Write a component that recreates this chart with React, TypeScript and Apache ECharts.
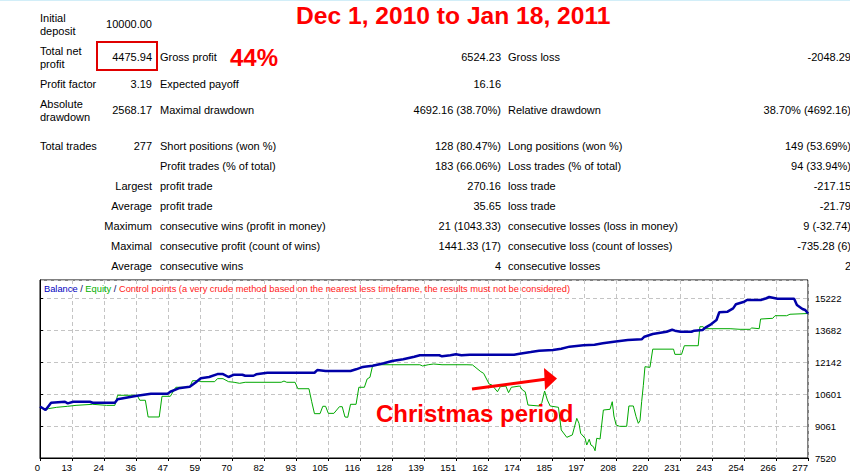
import React, { useEffect, useRef } from "react";
import * as echarts from "echarts";

// balance curve, [trade number, money]
const balancePoints: [number, number][] = [
  [0, 10000], [2, 9830], [4, 10180], [9, 10230], [10, 10150], [12, 10230], [18, 10230],
  [19, 10180], [27, 10180], [28, 10350], [30, 10400], [33, 10470], [35, 10520], [40, 10615],
  [46, 10615], [47, 10710], [50, 10875], [54, 10950], [56, 11145], [58, 11360], [61, 11420],
  [64, 11560], [66, 11560], [68, 11420], [70, 11530], [73, 11530], [74, 11480], [77, 11480],
  [78, 11550], [82, 11625], [99, 11625], [100, 11755], [103, 11710], [112, 11710], [114, 11790],
  [116, 11885], [117, 11915], [120, 11965], [124, 12080], [127, 12190], [131, 12270],
  [135, 12395], [137, 12465], [144, 12465], [145, 12415], [148, 12465], [150, 12510],
  [152, 12465], [155, 12490], [171, 12490], [173, 12540], [177, 12620], [180, 12685],
  [185, 12720], [188, 12780], [191, 12880], [196, 12945], [200, 12975], [203, 13040],
  [207, 13120], [212, 13200], [217, 13235], [218, 13360], [221, 13490], [226, 13600],
  [228, 13695], [229, 13650], [231, 13600], [235, 13600], [236, 13650], [239, 13680],
  [240, 13795], [242, 13955], [244, 14165], [245, 14535], [248, 14565], [250, 14725],
  [251, 14920], [254, 15045], [255, 15125], [260, 15125], [262, 15210], [263, 15270],
  [266, 15190], [272, 15190], [273, 14885], [275, 14695], [276, 14645], [277, 14476],
];

// equity curve, [trade number, money]
const equityPoints: [number, number][] = [
  [0, 10000], [2, 9830], [3, 9895], [6, 9960], [10, 10010], [13, 10055], [19, 10105],
  [24, 10055], [27, 10055], [28, 10540], [35, 10540], [36, 10300], [38, 10300], [39, 9495],
  [43, 9495], [44, 10490], [47, 10490], [48, 10710], [49, 10925], [54, 10925], [55, 11240],
  [57, 11240], [58, 11195], [63, 11195], [64, 11340], [66, 11340], [68, 11195], [70, 11165],
  [72, 11115], [74, 11165], [87, 11165], [88, 11225], [89, 11165], [92, 11165], [93, 10855],
  [97, 10855], [98, 10230], [99, 9655], [101, 9655], [102, 10010], [103, 10010], [104, 9670],
  [106, 9670], [108, 9990], [109, 9990], [110, 9495], [111, 9480], [112, 10105], [114, 10105],
  [115, 10925], [117, 10925], [118, 11325], [119, 11405], [120, 11985], [121, 12010],
  [137, 12010], [138, 11950], [140, 12010], [142, 12045], [145, 12010], [154, 12010],
  [156, 12000], [159, 11675], [160, 11595], [162, 11080], [163, 11035], [165, 10710],
  [166, 10950], [168, 10985], [169, 10665], [170, 10925], [173, 10985], [174, 10795],
  [175, 10710], [176, 10070], [180, 10025], [181, 10180], [182, 10745], [183, 10310],
  [184, 10025], [187, 9960], [188, 8870], [190, 8515], [192, 8630], [193.6, 9430],
  [194.4, 9190], [195, 8710], [196.6, 8470], [197.2, 8145], [198.1, 8420], [198.7, 8145],
  [199.6, 8065], [200.2, 7870], [200.8, 8470], [202, 8435], [203.2, 9830], [205.6, 9865],
  [206.4, 10230], [207, 9540], [207.8, 9110], [209, 9045], [211.6, 9045], [212.4, 10025],
  [214, 10025], [215, 9510], [215.8, 9190], [216.4, 9315], [217, 10230], [217.6, 11000],
  [218.2, 11915], [220, 11885], [221, 12760], [228.5, 12760], [229, 12510], [231.4, 12510],
  [232.4, 12925], [237.4, 12925], [238, 13840], [239.2, 13840], [239.6, 13745],
  [248.9, 13745], [252.5, 13715], [256.1, 13715], [256.7, 13780], [259.4, 13745],
  [259.9, 14210], [264.3, 14245], [265.1, 14370], [269.3, 14370], [270.5, 14440], [277, 14476],
];

const xTickLabels = [
  "0", "13", "24", "36", "47", "59", "70", "82", "93", "105", "116", "128", "139",
  "151", "162", "174", "185", "197", "208", "220", "231", "243", "254", "266", "277",
];
const tradeCount = 277;
const yMin = 7520.4;
const yStep = 1540.4;
const yMax = 16089;

const reportTitle = "Dec 1, 2010 to Jan 18, 2011";
const profitNote = "44%";
const christmasNote = "Christmas period";
const legendNote =
  "Control points (a very crude method based on the nearest less timeframe, the results must not be considered)";

// report table, one array per column
const rowY = [24, 57, 84, 110, 146, 166, 186, 206, 226, 246, 266];
const colNames = ["Initial\ndeposit", "Total net\nprofit", "Profit factor", "Absolute\ndrawdown", "Total trades", "", "", "", "", "", ""];
const colFirstValues = ["10000.00", "4475.94", "3.19", "2568.17", "277", "", "Largest", "Average", "Maximum", "Maximal", "Average"];
const colMidNames = ["", "Gross profit", "Expected payoff", "Maximal drawdown", "Short positions (won %)", "Profit trades (% of total)", "profit trade", "profit trade", "consecutive wins (profit in money)", "consecutive profit (count of wins)", "consecutive wins"];
const colMidValues = ["", "6524.23", "16.16", "4692.16 (38.70%)", "128 (80.47%)", "183 (66.06%)", "270.16", "35.65", "21 (1043.33)", "1441.33 (17)", "4"];
const colRightNames = ["", "Gross loss", "", "Relative drawdown", "Long positions (won %)", "Loss trades (% of total)", "loss trade", "loss trade", "consecutive losses (loss in money)", "consecutive loss (count of losses)", "consecutive losses"];
const colRightValues = ["", "-2048.29", "", "38.70% (4692.16)", "149 (53.69%)", "94 (33.94%)", "-217.15", "-21.79", "9 (-32.74)", "-735.28 (6)", "2"];

const FAMILY = '"Liberation Sans", Arial, sans-serif';

const buildGraphics = () => {
  const cols = [colNames, colFirstValues, colMidNames, colMidValues, colRightNames, colRightValues];
  const colX = [40, 152, 160, 501, 508, 851];
  const colAlign = ["left", "right", "left", "right", "left", "right"];
  const els: any[] = [
    { type: "rect", shape: { x: 0, y: 0, width: 850, height: 1 }, style: { fill: "#d2eef8" } },
  ];
  cols.forEach((col, c) => {
    col.forEach((txt, i) => {
      if (!txt) return;
      els.push({
        type: "text",
        x: colX[c],
        y: rowY[i],
        style: {
          text: txt,
          font: `11px ${FAMILY}`,
          lineHeight: 13,
          fill: "#000",
          align: colAlign[c],
          verticalAlign: "middle",
        },
      });
    });
  });
  els.push(
    {
      type: "rect",
      shape: { x: 97, y: 42, width: 60, height: 28 },
      style: { fill: "none", stroke: "#e00000", lineWidth: 2 },
    },
    {
      type: "text",
      x: 296,
      y: 15,
      style: { text: reportTitle, font: `bold 24.6px ${FAMILY}`, fill: "#ff0000", verticalAlign: "middle" },
    },
    {
      type: "text",
      x: 230,
      y: 57,
      style: { text: profitNote, font: `bold 24px ${FAMILY}`, fill: "#ff0000", verticalAlign: "middle" },
    },
    {
      type: "text",
      x: 44,
      y: 289,
      z: 50,
      style: {
        text: `{b|Balance}{s| / }{e|Equity}{s| / }{r|${legendNote}}`,
        font: `9.3px ${FAMILY}`,
        verticalAlign: "middle",
        rich: {
          b: { fill: "#0000c0", fontSize: 9.3, fontFamily: FAMILY },
          s: { fill: "#000060", fontSize: 9.3, fontFamily: FAMILY },
          e: { fill: "#00b000", fontSize: 9.3, fontFamily: FAMILY },
          r: { fill: "#ff2020", fontSize: 9.3, fontFamily: FAMILY },
        },
      },
    },
    {
      type: "line",
      z: 100,
      shape: { x1: 472, y1: 389, x2: 547, y2: 379 },
      style: { stroke: "#ff0000", lineWidth: 3 },
    },
    {
      type: "polygon",
      z: 100,
      shape: { points: [[544, 368], [557, 378.5], [545, 390]] },
      style: { fill: "#ff0000" },
    },
    {
      type: "text",
      x: 376,
      y: 413,
      z: 100,
      style: { text: christmasNote, font: `bold 24px ${FAMILY}`, fill: "#ff0000", verticalAlign: "middle" },
    }
  );
  return els;
};

const BacktestReport = () => {
  const chartRef = useRef<HTMLDivElement>(null);

  useEffect(() => {
    if (!chartRef.current) return;
    const myChart = echarts.init(chartRef.current, null, { renderer: "svg" });
    const xStep = tradeCount / (xTickLabels.length - 1);

    const option: any = {
      animation: false,
      backgroundColor: "#ffffff",
      grid: {
        left: 40,
        top: 280,
        width: 768,
        height: 178,
        show: true,
        borderColor: "#000",
        borderWidth: 1,
        outerBoundsMode: "none",
      },
      xAxis: {
        type: "value",
        min: 0,
        max: tradeCount,
        interval: xStep,
        axisLine: { show: true, lineStyle: { color: "#000", width: 1 } },
        axisTick: { show: true, length: 3, lineStyle: { color: "#000" } },
        splitLine: { show: true, lineStyle: { color: "#c4c4c4", type: [4, 3] } },
        axisLabel: {
          color: "#000",
          fontSize: 9.5,
          fontFamily: FAMILY,
          margin: 4,
          align: "right",
          showMinLabel: true,
          showMaxLabel: true,
          formatter: (v: number) => xTickLabels[Math.round(v / xStep)] ?? "",
        },
      },
      yAxis: {
        type: "value",
        position: "right",
        min: yMin,
        max: yMax,
        interval: yStep,
        axisLine: { show: true, lineStyle: { color: "#000", width: 1 } },
        axisTick: { show: true, length: 3, lineStyle: { color: "#000" } },
        splitLine: { show: true, lineStyle: { color: "#c4c4c4", type: [4, 3] } },
        axisLabel: {
          color: "#000",
          fontSize: 9.5,
          fontFamily: FAMILY,
          margin: 7,
          showMinLabel: true,
          showMaxLabel: false,
          formatter: (v: number) => String(Math.round(v)),
        },
      },
      graphic: { elements: buildGraphics() },
      series: [
        {
          name: "Equity",
          type: "line",
          data: equityPoints,
          showSymbol: false,
          symbol: "none",
          silent: true,
          lineStyle: { color: "#00a800", width: 1 },
          itemStyle: { color: "#00a800" },
          z: 3,
        },
        {
          name: "Balance",
          type: "line",
          data: balancePoints,
          showSymbol: false,
          symbol: "none",
          silent: true,
          lineStyle: { color: "#0000a8", width: 2.5 },
          itemStyle: { color: "#0000a8" },
          z: 4,
        },
      ],
    };

    myChart.setOption(option);

    return () => {
      myChart.dispose();
    };
  }, []);

  return (
    <div
      ref={chartRef}
      style={{ position: "fixed", left: 0, top: 0, width: "850px", height: "472px", background: "#fff" }}
    />
  );
};

export default function App() {
  return <BacktestReport />;
}
